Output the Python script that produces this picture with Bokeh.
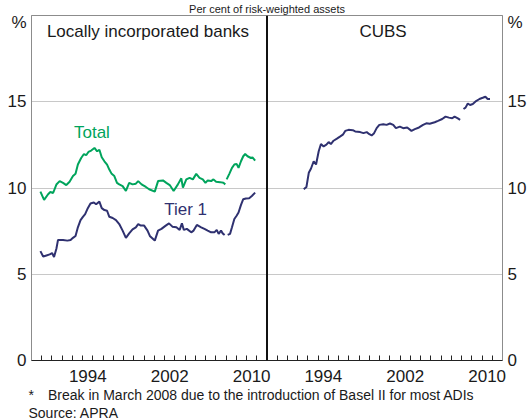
import numpy as np
from bokeh.plotting import figure
from bokeh.models import Range1d, LinearAxis, FixedTicker, Span, Label, Title
from bokeh.embed import file_html
from bokeh.resources import INLINE

NAN = float("nan")

# ---- Locally incorporated banks: Total capital ratio (%), break in March 2008 ----
total_year = [1989.87, 1990.23, 1990.62, 1990.84, 1991.11, 1991.43, 1991.75, 1992.08, 1992.40, 1992.72,
              1993.05, 1993.30, 1993.53, 1993.85, 1994.12, 1994.34, 1994.56, 1994.83, 1995.15, 1995.41,
              1995.63, 1995.86, 1996.12, 1996.38, 1996.60, 1996.83, 1997.09, 1997.35, 1997.57, 1997.90,
              1998.22, 1998.54, 1998.87, 1999.19, 1999.42, 1999.75, 2000.17, 2000.49, 2001.04, 2001.36,
              2001.84, 2002.17, 2002.50, 2002.88, 2003.30, 2003.63, 2003.79, 2004.12, 2004.44, 2004.76,
              2005.09, 2005.41, 2005.73, 2005.99, 2006.21, 2006.54, 2006.77, 2007.03, 2007.42, 2007.74,
              2007.93, 2008.00,
              2008.06, 2008.32, 2008.58, 2008.81, 2009.03, 2009.22, 2009.46, 2009.68, 2009.87, 2010.10,
              2010.43, 2010.58, 2010.84]
total_value = [9.79, 9.31, 9.64, 9.77, 9.71, 10.20, 10.40, 10.30, 10.17, 10.36,
               10.69, 10.82, 11.36, 11.74, 11.97, 11.90, 12.09, 12.17, 12.32, 12.13,
               12.22, 11.78, 11.55, 11.36, 11.07, 10.82, 10.69, 10.30, 10.21, 10.11,
               9.83, 10.30, 10.21, 10.25, 10.40, 10.21, 10.06, 9.93, 9.79, 10.40,
               10.44, 10.30, 10.17, 9.83, 10.21, 10.56, 10.02, 10.50, 10.59, 10.50,
               10.82, 10.59, 10.50, 10.30, 10.44, 10.40, 10.50, 10.36, 10.34, 10.30,
               10.21, NAN,
               10.50, 10.82, 11.17, 11.36, 11.40, 11.17, 11.55, 11.84, 11.97, 11.84,
               11.74, 11.78, 11.59]

# ---- Locally incorporated banks: Tier 1 capital ratio (%) ----
tier1_year = [1989.87, 1990.14, 1990.46, 1990.78, 1991.01, 1991.20, 1991.43, 1991.59, 1992.08, 1992.50,
              1992.82, 1993.05, 1993.30, 1993.53, 1993.79, 1994.02, 1994.24, 1994.50, 1994.76, 1995.09,
              1995.31, 1995.63, 1995.86, 1996.12, 1996.38, 1996.60, 1996.93, 1997.25, 1997.57, 1997.90,
              1998.22, 1998.54, 1998.87, 1999.19, 1999.42, 1999.68, 2000.00, 2000.33, 2000.58, 2001.04,
              2001.36, 2001.69, 2002.11, 2002.43, 2002.76, 2003.15, 2003.47, 2003.69, 2003.88, 2004.17,
              2004.60, 2004.83, 2005.15, 2005.57, 2005.89, 2006.21, 2006.54, 2006.86, 2007.09, 2007.28,
              2007.51, 2007.67, 2007.86, 2008.00,
              2008.16, 2008.39, 2008.58, 2008.81, 2009.03, 2009.22, 2009.46, 2009.68, 2009.94, 2010.26,
              2010.52, 2010.84]
tier1_value = [6.34, 6.03, 6.09, 6.15, 6.23, 6.00, 6.48, 6.99, 6.99, 6.95,
               6.99, 7.11, 7.22, 7.72, 8.14, 8.33, 8.49, 8.83, 9.10, 9.16,
               9.06, 9.21, 8.83, 8.72, 8.68, 8.33, 8.26, 8.14, 7.91, 7.53,
               7.11, 7.37, 7.60, 7.72, 7.91, 7.82, 7.82, 7.53, 7.20, 6.95,
               7.53, 7.63, 7.82, 7.95, 7.76, 7.72, 7.57, 7.95, 7.57, 7.63,
               7.43, 7.53, 7.86, 7.72, 7.63, 7.53, 7.43, 7.43, 7.57, 7.34,
               7.53, 7.37, 7.28, NAN,
               7.28, 7.34, 7.72, 8.20, 8.39, 8.58, 9.02, 9.35, 9.39, 9.41,
               9.54, 9.73]

# ---- CUBS (%) ----
cubs_year = [1992.59, 1992.85, 1993.08, 1993.30, 1993.56, 1993.79, 1994.05, 1994.27, 1994.53, 1994.80,
             1995.02, 1995.24, 1995.50, 1995.83, 1996.16, 1996.41, 1996.64, 1996.96, 1997.38, 1997.61,
             1998.10, 1998.42, 1998.74, 1999.00, 1999.22, 1999.46, 1999.71, 1999.97, 2000.36, 2000.68,
             2001.01, 2001.33, 2001.59, 2001.98, 2002.30, 2002.69, 2003.11, 2003.44, 2003.85, 2004.24,
             2004.56, 2004.89, 2005.38, 2005.70, 2006.11, 2006.44, 2006.77, 2007.09, 2007.32, 2007.64,
             2007.86, 2008.00,
             2008.19, 2008.39, 2008.61, 2008.83, 2009.10, 2009.42, 2009.75, 2010.07, 2010.33, 2010.55,
             2010.78]
cubs_value = [9.93, 10.06, 10.88, 11.13, 11.55, 11.36, 12.13, 12.55, 12.41, 12.51,
              12.66, 12.55, 12.74, 12.86, 12.99, 13.09, 13.31, 13.37, 13.35, 13.28,
              13.24, 13.18, 13.24, 13.12, 13.05, 13.18, 13.47, 13.66, 13.70, 13.66,
              13.74, 13.66, 13.47, 13.56, 13.47, 13.51, 13.31, 13.41, 13.51, 13.66,
              13.75, 13.72, 13.81, 13.89, 14.00, 14.14, 14.08, 14.04, 14.14, 14.04,
              13.95, NAN,
              14.58, 14.66, 14.90, 14.81, 14.87, 15.04, 15.16, 15.23, 15.29, 15.16,
              15.16]

# ---- axes / labels ----
year_ticks = list(range(1989, 2036))          # yearly tick marks for both panels
x_label_pos = [1994.5, 2002.5, 2010.5, 2017.5, 2025.5, 2033.5]
x_label_txt = ["1994", "2002", "2010", "1994", "2002", "2010"]
y_ticks = [0, 5, 10, 15, 19.6]
y_label_txt = ["0", "5", "10", "15", "%"]
grid_ticks = [5, 10, 15]

title_txt = "Per cent of risk-weighted assets"
panel_titles = ["Locally incorporated banks", "CUBS"]
footnote_txt = "*\u2003Break in March 2008 due to the introduction of Basel II for most ADIs"
source_txt = "Source: APRA"

GREEN = "#00a45c"
NAVY = "#2f3170"
FONT = "Liberation Sans"
TXT = "#1a1a1a"

p = figure(width=529, height=420, output_backend="svg", toolbar_location=None,
           x_range=Range1d(1989, 2035), y_range=Range1d(0, 20),
           min_border_left=31, min_border_right=24, min_border_top=13, min_border_bottom=59,
           background_fill_color="white", border_fill_color="white")
p.extra_x_ranges = {"cubs": Range1d(1966, 2012)}
p.outline_line_color = "#8c8c8c"
p.xgrid.visible = False
p.ygrid.ticker = FixedTicker(ticks=grid_ticks)
p.ygrid.grid_line_color = "#c8c8c8"
p.ygrid.grid_line_width = 1

xa = p.xaxis[0]
xa.ticker = FixedTicker(ticks=x_label_pos, minor_ticks=year_ticks)
xa.major_label_overrides = dict(zip(x_label_pos, x_label_txt))
xa.major_tick_in = 0
xa.major_tick_out = 0
xa.minor_tick_in = 5
xa.minor_tick_out = 0
xa.axis_line_color = "#222222"
xa.minor_tick_line_color = "#222222"
xa.major_label_text_font = FONT
xa.major_label_text_font_size = "17px"
xa.major_label_text_color = TXT
xa.major_label_standoff = 9

def style_y(ax, standoff):
    ax.ticker = FixedTicker(ticks=y_ticks)
    ax.major_label_overrides = dict(zip(y_ticks, y_label_txt))
    ax.major_tick_in = 0
    ax.major_tick_out = 0
    ax.minor_tick_in = 0
    ax.minor_tick_out = 0
    ax.axis_line_color = "#8c8c8c"
    ax.major_label_text_font = FONT
    ax.major_label_text_font_size = "17px"
    ax.major_label_text_color = TXT
    ax.major_label_standoff = standoff

style_y(p.yaxis[0], 5)
ya_r = LinearAxis()
style_y(ya_r, 5)
p.add_layout(ya_r, "right")

p.add_layout(Span(location=2012, dimension="height", line_color="#111111", line_width=2))

p.line(total_year, total_value, line_color=GREEN, line_width=2)
p.line(tier1_year, tier1_value, line_color=NAVY, line_width=2)
p.line(cubs_year, cubs_value, line_color=NAVY, line_width=2, x_range_name="cubs")

p.add_layout(Label(x=1994.9, y=13.2, text="Total", text_color=GREEN, text_font=FONT,
                   text_font_size="17px", text_align="center", text_baseline="middle"))
p.add_layout(Label(x=2004.05, y=8.74, text="Tier 1", text_color=NAVY, text_font=FONT,
                   text_font_size="17px", text_align="center", text_baseline="middle"))

def screen_label(x, y, text, size, align="left"):
    p.add_layout(Label(x=x, y=y, x_units="screen", y_units="screen", text=text,
                       text_color=TXT, text_font=FONT, text_font_size=size,
                       text_align=align, text_baseline="alphabetic"))

screen_label(116.5, 329, panel_titles[0], "17px", "center")
screen_label(351.5, 329, panel_titles[1], "17px", "center")

# chart heading (the reference shows it squeezed above the frame)
p.add_layout(Title(text=title_txt, align="center", offset=-7, standoff=1,
                   text_font=FONT, text_font_size="11px", text_font_style="normal",
                   text_color=TXT), "above")

for txt in (footnote_txt, source_txt):
    p.add_layout(Title(text=txt, align="left", offset=-3, standoff=0,
                       text_font=FONT, text_font_size="14px", text_font_style="normal",
                       text_color=TXT), "below")

open("out.html", "w").write(file_html(p, INLINE))
